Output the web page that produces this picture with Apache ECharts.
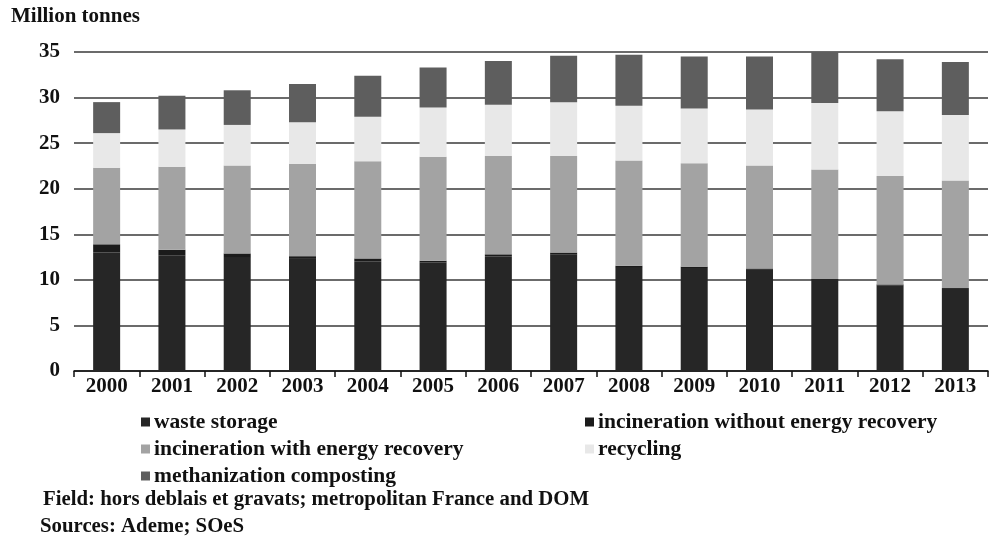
<!DOCTYPE html>
<html><head><meta charset="utf-8">
<script src="https://cdn.jsdelivr.net/npm/echarts@6/dist/echarts.min.js"></script>
<style>html,body{margin:0;padding:0;background:#fff}#c{width:990px;height:539px}</style>
</head><body><div id="c"></div>
<script>
var years = ['2000','2001','2002','2003','2004','2005','2006','2007','2008','2009','2010','2011','2012','2013'];
var wasteStorage = [13.0, 12.7, 12.5, 12.3, 12.05, 11.9, 12.6, 12.8, 11.4, 11.3, 11.1, 10.0, 9.4, 9.0];
var incinWithout = [0.9, 0.6, 0.4, 0.3, 0.3, 0.2, 0.2, 0.2, 0.15, 0.15, 0.15, 0.1, 0.1, 0.1];
var incinWith = [8.4, 9.1, 9.65, 10.1, 10.65, 11.4, 10.8, 10.6, 11.55, 11.35, 11.3, 12.0, 11.9, 11.8];
var recycling = [3.8, 4.1, 4.45, 4.6, 4.9, 5.4, 5.6, 5.9, 6.0, 6.0, 6.15, 7.3, 7.1, 7.2];
var methanization = [3.4, 3.7, 3.8, 4.2, 4.5, 4.4, 4.8, 5.1, 5.6, 5.7, 5.8, 5.6, 5.7, 5.8];
var yTicks = [0, 5, 10, 15, 20, 25, 30, 35];

var FONT = '"Liberation Serif", "Times New Roman", serif';
var names = ['waste storage','incineration without energy recovery','incineration with energy recovery','recycling','methanization composting'];
var colors = ['#262626','#1b1b1b','#a3a3a3','#e8e8e8','#5e5e5e'];
var datas = [wasteStorage, incinWithout, incinWith, recycling, methanization];

var series = names.map(function(n, i){
  return {name:n, type:'bar', stack:'total', barWidth:27, data:datas[i],
    itemStyle:{color:colors[i]}, emphasis:{disabled:true}};
});
var legendPos = [[141,411],[585,411],[141,438],[585,438],[141,465]];
var legends = names.map(function(n,i){
  return {data:[n], left:legendPos[i][0], top:legendPos[i][1], icon:'rect', itemWidth:9, itemHeight:9, itemGap:0,
    padding:0, selectedMode:false,
    textStyle:{fontFamily:FONT, fontWeight:'bold', fontSize:21.5, color:'#111', padding:[0,0,0,-1]}};
});

var chart = echarts.init(document.getElementById('c'), null, {renderer:'canvas'});
chart.setOption({
  animation:false,
  backgroundColor:'#fff',
  grid:{left:74, right:2, top:52, bottom:168, containLabel:false},
  legend: legends,
  xAxis:{type:'category', data:years, boundaryGap:true,
    axisLine:{lineStyle:{color:'#111', width:1.5}},
    axisTick:{show:true, alignWithLabel:false, length:6, lineStyle:{color:'#111', width:1.5}},
    axisLabel:{margin:5, fontFamily:FONT, fontWeight:'bold', fontSize:21, color:'#111'}},
  yAxis:{type:'value', min:0, max:35, interval:5,
    axisLine:{show:false}, axisTick:{show:false},
    splitLine:{lineStyle:{color:'#3a3a3a', width:1.5}},
    axisLabel:{margin:14, fontFamily:FONT, fontWeight:'bold', fontSize:21, color:'#111',
      formatter:function(v){return yTicks.indexOf(v)>=0? String(v):'';}}},
  graphic:[
    {type:'text', left:11, top:6, style:{text:'Million tonnes', fontFamily:FONT, fontWeight:'bold', fontSize:21, fill:'#111'}},
    {type:'text', left:43, top:489, style:{text:'Field: hors deblais et gravats; metropolitan France and DOM', fontFamily:FONT, fontWeight:'bold', fontSize:20.8, fill:'#111'}},
    {type:'text', left:40, top:516, style:{text:'Sources: Ademe; SOeS', fontFamily:FONT, fontWeight:'bold', fontSize:20.8, fill:'#111'}}
  ],
  series: series
});
</script></body></html>
